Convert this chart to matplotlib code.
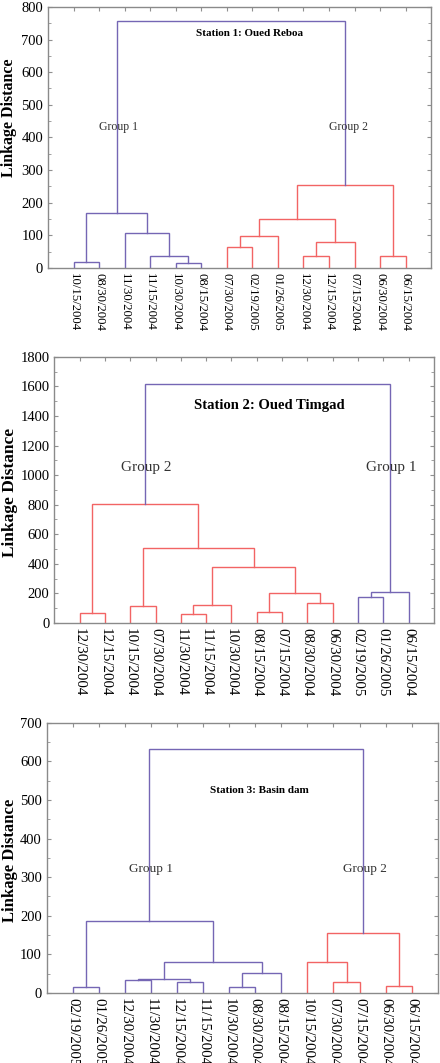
import matplotlib.pyplot as plt
from matplotlib.ticker import MultipleLocator

plt.rcParams['font.family'] = ['Liberation Serif', 'DejaVu Serif']

# Station 1: Oued Reboa
labels1 = ['10/15/2004', '08/30/2004', '11/30/2004', '11/15/2004', '10/30/2004',
           '08/15/2004', '07/30/2004', '02/19/2005', '01/26/2005', '12/30/2004',
           '12/15/2004', '07/15/2004', '06/30/2004', '06/15/2004']
# merges: (cluster a, cluster b, linkage distance); new cluster id = n + row
merges1 = [(0, 1, 17), (4, 5, 16), (3, 15, 35), (2, 16, 108), (14, 17, 168),
           (6, 7, 65), (19, 8, 98), (9, 10, 35), (21, 11, 80), (20, 22, 150),
           (12, 13, 35), (23, 24, 254), (18, 25, 757)]
red_root1 = 25

# Station 2: Oued Timgad
labels2 = ['12/30/2004', '12/15/2004', '10/15/2004', '07/30/2004', '11/30/2004',
           '11/15/2004', '10/30/2004', '08/15/2004', '07/15/2004', '08/30/2004',
           '06/30/2004', '02/19/2005', '01/26/2005', '06/15/2004']
merges2 = [(0, 1, 70), (2, 3, 113), (4, 5, 61), (16, 6, 118), (7, 8, 75),
           (9, 10, 136), (18, 19, 204), (17, 20, 380), (15, 21, 507),
           (14, 22, 805), (11, 12, 174), (24, 13, 210), (23, 25, 1617)]
red_root2 = 23

# Station 3: Basin dam
labels3 = ['02/19/2005', '01/26/2005', '12/30/2004', '11/30/2004', '12/15/2004',
           '11/15/2004', '10/30/2004', '08/30/2004', '08/15/2004', '10/15/2004',
           '07/30/2004', '07/15/2004', '06/30/2004', '06/15/2004']
merges3 = [(0, 1, 16), (2, 3, 33), (4, 5, 29), (15, 16, 36), (6, 7, 16),
           (18, 8, 52), (17, 19, 80), (14, 20, 187), (10, 11, 29), (9, 22, 80),
           (12, 13, 19), (23, 24, 156), (21, 25, 633)]
red_root3 = 25

PURPLE = '#7566b4'
RED = '#f26464'


def subtree(merges, n, root):
    # collect merge ids below (and including) root
    ids = set()
    stack = [root]
    while stack:
        c = stack.pop()
        if c >= n:
            ids.add(c)
            a, b, h = merges[c - n]
            stack += [a, b]
    return ids


def drawDendrogram(ax, labels, merges, red_root, ymax, ystep, title, title_xy,
                   title_size, groups, group_size, xlab_size, ylab_size, ylab_xy):
    n = len(labels)
    xpos = {i: i + 1 for i in range(n)}
    ypos = {i: 0 for i in range(n)}
    reds = subtree(merges, n, red_root)
    for k, (a, b, h) in enumerate(merges):
        cid = n + k
        col = RED if cid in reds else PURPLE
        xa, xb = xpos[a], xpos[b]
        ax.plot([xa, xa, xb, xb], [ypos[a], h, h, ypos[b]], color=col, lw=1.0,
                solid_joinstyle='miter')
        xpos[cid] = (xa + xb) / 2
        ypos[cid] = h

    ax.set_xlim(0, n + 1)
    ax.set_ylim(0, ymax)
    ax.yaxis.set_major_locator(MultipleLocator(ystep))
    ax.yaxis.set_minor_locator(MultipleLocator(ystep / 2))
    ax.set_xticks(range(1, n + 1))
    ax.set_xticklabels(labels, rotation=-90, fontsize=xlab_size)
    ax.tick_params(axis='x', bottom=False, top=True, direction='in', length=3,
                   color='#909090', pad=4)
    ax.tick_params(axis='y', which='both', left=True, right=True, direction='in',
                   color='#909090', labelsize=10.5)
    ax.tick_params(axis='y', which='major', length=3)
    ax.tick_params(axis='y', which='minor', length=2)
    for s in ax.spines.values():
        s.set_color('#8a8a8a')
        s.set_linewidth(1.0)
    ax.set_ylabel('Linkage Distance', fontsize=ylab_size, fontweight='bold')
    ax.yaxis.set_label_coords(ylab_xy[0], ylab_xy[1])
    ax.text(title_xy[0], title_xy[1], title, fontsize=title_size, fontweight='bold',
            ha='center', va='center')
    for gx, gy, gt in groups:
        ax.text(gx, gy, gt, fontsize=group_size, ha='center', va='center',
                color='#333333')


fig = plt.figure(figsize=(4.4, 10.63), dpi=100)

ax1 = fig.add_axes([0.109, 0.748, 0.871, 0.2455])
drawDendrogram(ax1, labels1, merges1, red_root1, 800, 100,
               'Station 1: Oued Reboa', (7.9, 720), 8,
               [(2.75, 432, 'Group 1'), (11.75, 432, 'Group 2')], 8.5,
               9.2, 11.5, (-0.08, 0.575))

ax2 = fig.add_axes([0.1235, 0.414, 0.8625, 0.2503])
drawDendrogram(ax2, labels2, merges2, red_root2, 1800, 200,
               'Station 2: Oued Timgad', (8.5, 1472), 10.5,
               [(3.65, 1054, 'Group 2'), (13.3, 1050, 'Group 1')], 11,
               10.8, 12.5, (-0.095, 0.49))

ax3 = fig.add_axes([0.106, 0.066, 0.889, 0.254])
drawDendrogram(ax3, labels3, merges3, red_root3, 700, 100,
               'Station 3: Basin dam', (8.15, 524), 8,
               [(4.0, 320, 'Group 1'), (12.2, 320, 'Group 2')], 9.5,
               10.8, 12, (-0.073, 0.49))

fig.savefig('out.png', dpi=100)
